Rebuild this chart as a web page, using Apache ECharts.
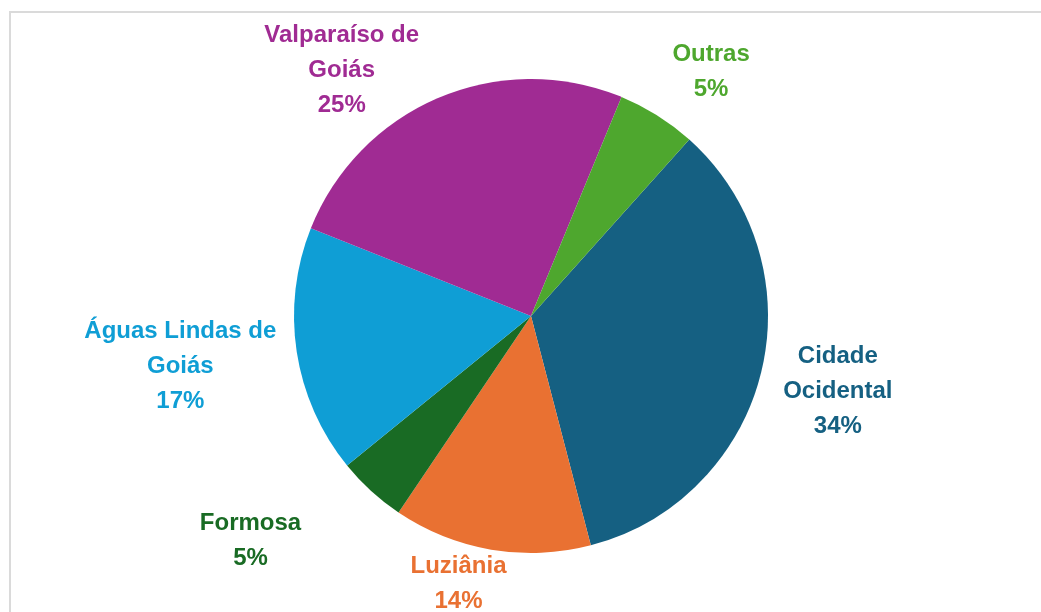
<!DOCTYPE html>
<html>
<head>
<meta charset="utf-8">
<script src="https://cdn.jsdelivr.net/npm/echarts@6/dist/echarts.min.js"></script>
<style>
  html, body { margin: 0; padding: 0; background: #fff; }
  #pie { width: 1041px; height: 612px; }
</style>
</head>
<body>
<div id="pie"></div>
<script>
// municípios (clockwise, starting with Cidade Ocidental)
const categories = [
  "Cidade\nOcidental",
  "Luziânia",
  "Formosa",
  "Águas Lindas de\nGoiás",
  "Valparaíso de\nGoiás",
  "Outras",
];
// share of each slice (%)
const values = [34.3, 13.5, 4.7, 16.9, 25.2, 5.4];
const colors = ["#156082", "#e97132", "#196b24", "#0f9ed5", "#a02b93", "#4ea72e"];

const cx = 531;
const cy = 316;
const radius = 237;
const startAngle = 48.1;

// hand-tuned nudges, like labels dragged in the original workbook
const labelNudge = [
  [-1, 1],
  [-24, -16],
  [-73, -2],
  [0, -3],
  [-63, 53],
  [22, 7],
];

let myChart = echarts.init(document.getElementById("pie"));
const total = values.reduce((a, b) => a + b, 0);

let data = categories.map((name, i) => {
  return {
    name: name,
    value: values[i],
    itemStyle: { color: colors[i] },
    label: { color: colors[i] },
  };
});

// middle angle of slice i, clockwise from 12 o'clock
const midAngle = function (i) {
  let cum = 0;
  for (let k = 0; k < i; k++) cum += values[k];
  return (90 - startAngle) + (360 * (cum + values[i] / 2)) / total;
};

let option = {
  animation: false,
  graphic: [
    {
      type: "rect",
      shape: { x: 10, y: 12, width: 1100, height: 700 },
      style: { fill: null, stroke: "#dadada", lineWidth: 2 },
      silent: true,
    },
  ],
  series: [
    {
      type: "pie",
      center: [cx, cy],
      radius: radius,
      startAngle: startAngle,
      clockwise: true,
      avoidLabelOverlap: false,
      percentPrecision: 1,
      data: data,
      label: {
        show: true,
        position: "outside",
        fontFamily: "'Liberation Sans', Arial, sans-serif",
        fontWeight: "bold",
        fontSize: 24,
        lineHeight: 35,
        align: "center",
        formatter: function (p) {
          return p.name + "\n" + Math.round(p.percent) + "%";
        },
      },
      labelLine: { show: false },
      labelLayout: function (params) {
        const i = params.dataIndex;
        const a = (midAngle(i) * Math.PI) / 180;
        const sx = Math.sin(a);
        const sy = -Math.cos(a);
        const w = params.labelRect.width;
        const h = params.labelRect.height - 15;
        const support = Math.abs(sx) * w / 2 + Math.abs(sy) * h / 2;
        const dist = radius + 16 + support;
        return {
          x: cx + sx * dist + labelNudge[i][0],
          y: cy + sy * dist + labelNudge[i][1],
          align: "center",
          verticalAlign: "middle",
        };
      },
    },
  ],
};
myChart.setOption(option);
</script>
</body>
</html>
